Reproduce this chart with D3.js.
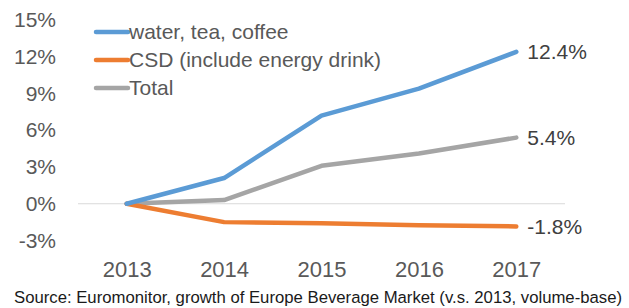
<!DOCTYPE html>
<html><head><meta charset="utf-8">
<script src="https://cdn.jsdelivr.net/npm/d3@7"></script>
<style>body{margin:0;background:#fff}svg{display:block}text{font-family:"Liberation Sans",Arial,sans-serif}</style>
</head><body><svg id="c" width="629" height="308"></svg>
<script>
const years = ["2013","2014","2015","2016","2017"];
const waterTeaCoffee = [0, 2.1, 7.2, 9.4, 12.4];
const csd = [0, -1.5, -1.6, -1.75, -1.85];
const total = [0, 0.3, 3.1, 4.1, 5.4];
const seriesNames = ["water, tea, coffee", "CSD (include energy drink)", "Total"];
const endLabels = ["12.4%", "-1.8%", "5.4%"];
const yTicks = [-3, 0, 3, 6, 9, 12, 15];
const sourceText = "Source: Euromonitor, growth of Europe Beverage Market (v.s. 2013, volume-base)";

const colors = ["#5B9BD5", "#ED7D31", "#A5A5A5"];
const series = [waterTeaCoffee, csd, total];
const svg = d3.select("#c");
const x = d3.scalePoint().domain(years).range([78, 565]).padding(0.5);
const y = d3.scaleLinear().domain([-3, 15]).range([240.5, 20]);

// zero gridline
svg.append("line").attr("x1", 78).attr("x2", 565).attr("y1", y(0)).attr("y2", y(0))
  .attr("stroke", "#D9D9D9").attr("stroke-width", 1);

// y axis labels
const yAxis = d3.axisLeft(y).tickValues(yTicks).tickFormat(d => d + "%").tickSize(0).tickPadding(0);
const gy = svg.append("g").attr("transform", "translate(56,0)").call(yAxis);
gy.select(".domain").remove();
gy.selectAll("text").attr("font-size", 21).attr("fill", "#595959").style("font-family", "'Liberation Sans',Arial,sans-serif");

// x axis labels
const xAxis = d3.axisBottom(x).tickSize(0).tickPadding(0);
const gx = svg.append("g").attr("transform", "translate(0,261)").call(xAxis);
gx.select(".domain").remove();
gx.selectAll("text").attr("font-size", 22).attr("fill", "#595959").attr("dy", "0.71em").style("font-family", "'Liberation Sans',Arial,sans-serif");

// lines
const line = d3.line().x((d, i) => x(years[i])).y(d => y(d));
[2, 1, 0].forEach(k => {
  svg.append("path").datum(series[k]).attr("d", line).attr("fill", "none")
    .attr("stroke", colors[k]).attr("stroke-width", 4.5).attr("stroke-linejoin", "round").attr("stroke-linecap", "round");
  svg.append("text").attr("x", x(years[4]) + 11).attr("y", y(series[k][4])).attr("dy", "0.35em")
    .attr("font-size", 21).attr("fill", "#404040").text(endLabels[k]);
});

// legend
seriesNames.forEach((n, i) => {
  const ly = 32 + i * 28;
  svg.append("line").attr("x1", 96).attr("x2", 128).attr("y1", ly).attr("y2", ly)
    .attr("stroke", colors[i]).attr("stroke-width", 4.5).attr("stroke-linecap", "round");
  svg.append("text").attr("x", 129).attr("y", ly).attr("dy", "0.35em").attr("font-size", 21)
    .attr("fill", "#595959").text(n);
});

// source
svg.append("text").attr("x", 14).attr("y", 303).attr("font-size", 16.8).attr("fill", "#1a1a1a")
  .attr("textLength", 608).attr("lengthAdjust", "spacingAndGlyphs").text(sourceText);
</script></body></html>
